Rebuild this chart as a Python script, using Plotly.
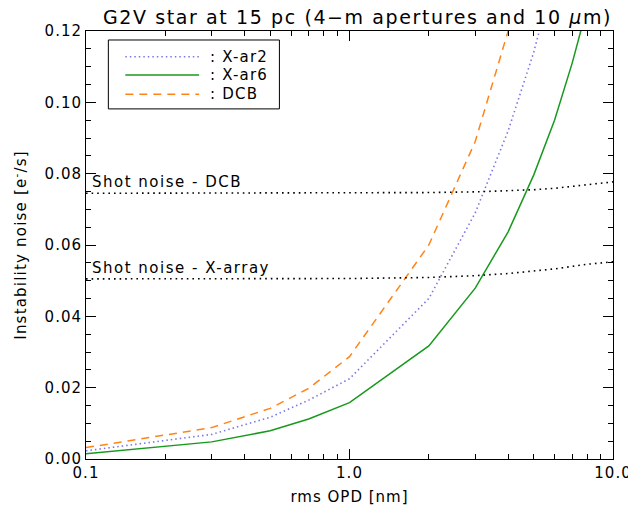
import plotly.graph_objects as go

# ---- data ----
opd = [0.1, 0.3, 0.5, 0.7, 1.0, 2.0, 3.0, 4.0, 5.0, 6.0, 7.0, 8.0, 10.0]
x_ar2 = [0.0023, 0.0069, 0.0117, 0.0165, 0.0225, 0.0450, 0.0690, 0.0920, 0.1140, 0.1350, 0.1550, 0.1750, 0.2100]
x_ar6 = [0.0015, 0.0048, 0.0079, 0.0112, 0.0158, 0.0317, 0.0479, 0.0637, 0.0796, 0.0950, 0.1110, 0.1270, 0.1580]
dcb = [0.0032, 0.0088, 0.0142, 0.0198, 0.0287, 0.0600, 0.0890, 0.1200, 0.1500, 0.1800, 0.2100, 0.2400, 0.3000]

opd_shot = [0.1, 1.0, 2.0, 3.0, 4.0, 5.0, 6.0, 7.0, 8.0, 10.0]
shot_dcb = [0.0745, 0.0745, 0.0747, 0.0749, 0.0752, 0.0755, 0.0759, 0.0764, 0.0769, 0.0777]
shot_xarray = [0.0505, 0.0506, 0.0509, 0.0514, 0.0520, 0.0526, 0.0533, 0.0540, 0.0546, 0.0553]

series_names = [": X-ar2", ": X-ar6", ": DCB"]
shot_labels = ["Shot noise - DCB", "Shot noise - X-array"]

x_major = [0.1, 1.0, 10.0]
x_major_text = ["0.1", "1.0", "10.0"]
x_minor = [0.2, 0.3, 0.4, 0.5, 0.6, 0.7, 0.8, 0.9, 2, 3, 4, 5, 6, 7, 8, 9]
y_major = [0.00, 0.02, 0.04, 0.06, 0.08, 0.10, 0.12]
y_major_text = ["0.00", "0.02", "0.04", "0.06", "0.08", "0.10", "0.12"]

FONT = "DejaVu Sans"


def spaced(txt, px):
    return '<span style="letter-spacing:%gpx">%s</span>' % (px, txt)


styles = [
    dict(color="#7878E6", width=1.6, dash="1.5px,3px"),
    dict(color="#18991E", width=1.5, dash="solid"),
    dict(color="#FF8418", width=1.5, dash="8px,6px"),
]
shot_style = dict(color="black", width=1.6, dash="1.6px,4px")

fig = go.Figure()
for ys, name, st in zip([x_ar2, x_ar6, dcb], series_names, styles):
    fig.add_trace(go.Scatter(x=opd, y=ys, mode="lines", name=name, line=st, showlegend=False))

for ys, lab in zip([shot_dcb, shot_xarray], shot_labels):
    fig.add_trace(go.Scatter(x=opd_shot, y=ys, mode="lines", name=lab, line=shot_style, showlegend=False))
    fig.add_annotation(x=-1, y=ys[0], xref="x", yref="y", text=spaced(lab, 1.5), showarrow=False,
                       xanchor="left", yanchor="middle", xshift=4, yshift=11,
                       font=dict(family=FONT, size=15, color="black"))

# manual legend box (IDL style)
fig.add_shape(type="rect", xref="paper", yref="paper", x0=0.0424, x1=0.367, y0=0.818, y1=0.979,
              line=dict(color="black", width=1), fillcolor="white", layer="above")
leg_y = [0.940, 0.897, 0.852]
for name, st, yy in zip(series_names, styles, leg_y):
    fig.add_shape(type="line", xref="paper", yref="paper", x0=0.0746, x1=0.2146, y0=yy, y1=yy,
                  line=st, layer="above")
    fig.add_annotation(x=0.2388, y=yy, xref="paper", yref="paper", text=spaced(name, 1.2), showarrow=False,
                       xanchor="left", yanchor="middle", xshift=-4,
                       font=dict(family=FONT, size=15, color="black"))

fig.update_layout(
    width=636, height=514,
    margin=dict(l=72, r=28, t=23, b=63),
    paper_bgcolor="white", plot_bgcolor="white",
    font=dict(family=FONT, size=14, color="black"),
    title=dict(text=spaced("G2V star at 15 pc (4\u2212m apertures and 10 <i>\u03bc</i>m)", 1.6),
               x=95 / 636, xref="container", xanchor="left", y=1 - 9 / 514, yref="container",
               yanchor="middle",
               font=dict(family=FONT, size=19, color="black")),
    showlegend=False,
)
fig.update_xaxes(
    type="log", range=[-1, 1], showgrid=False, zeroline=False,
    showline=True, linecolor="black", linewidth=1, mirror="allticks",
    ticks="inside", ticklen=10, tickcolor="black", tickwidth=1,
    tickmode="array", tickvals=x_major, ticktext=[spaced(t, 1) for t in x_major_text],
    tickfont=dict(family=FONT, size=15),
    minor=dict(tickmode="array", tickvals=x_minor, ticks="inside", ticklen=5,
               tickcolor="black", tickwidth=1, showgrid=False),
    title=dict(text=spaced("rms OPD [nm]", 1), font=dict(family=FONT, size=15), standoff=10),
)
fig.update_yaxes(
    range=[0, 0.12], showgrid=False, zeroline=False,
    showline=True, linecolor="black", linewidth=1, mirror="allticks",
    ticks="inside", ticklen=10, tickcolor="black", tickwidth=1,
    tickmode="array", tickvals=y_major, ticktext=[spaced(t, 1) for t in y_major_text],
    tickfont=dict(family=FONT, size=15),
    minor=dict(dtick=0.005, tick0=0, ticks="inside", ticklen=5,
               tickcolor="black", tickwidth=1, showgrid=False),
    title=dict(text=spaced("Instability noise [e<sup>-</sup>/s]", 1.2), font=dict(family=FONT, size=15),
               standoff=14),
)

fig.write_html("out.html")
